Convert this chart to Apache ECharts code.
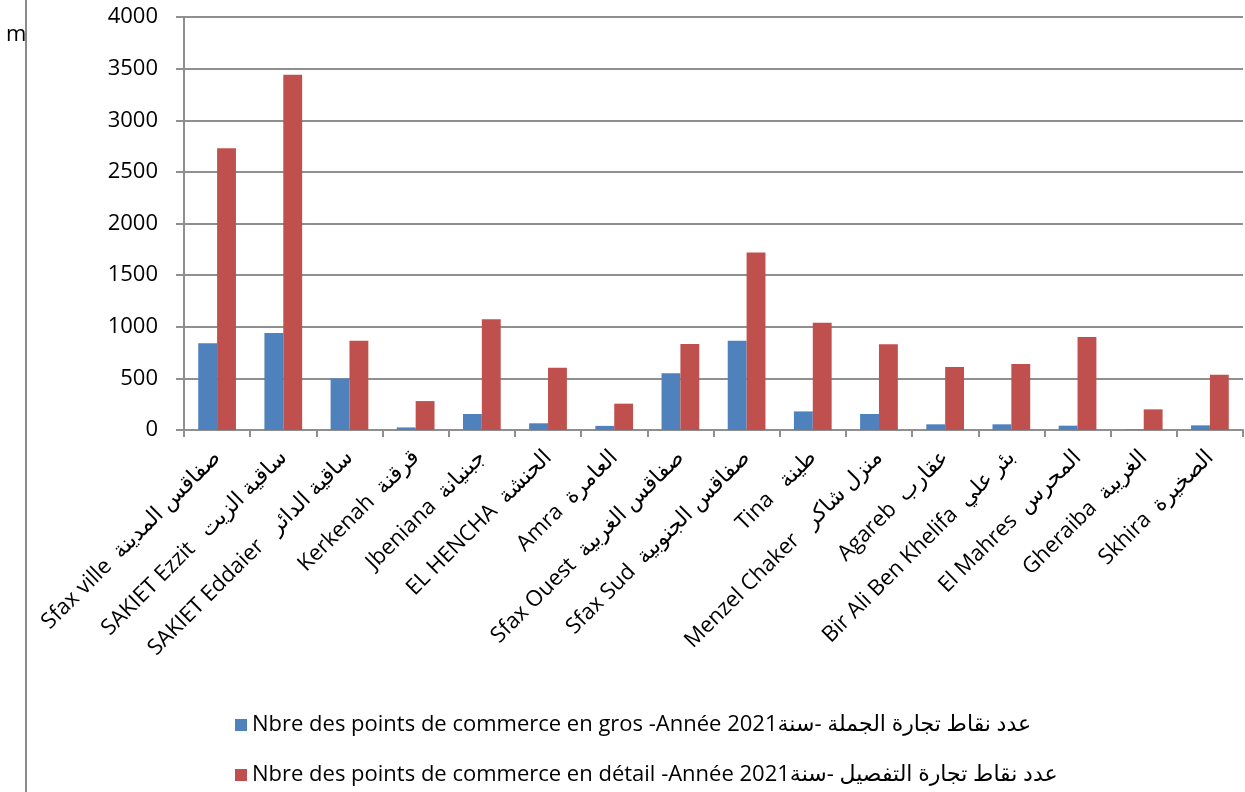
<!DOCTYPE html>
<html>
<head>
<meta charset="utf-8">
<script src="https://cdn.jsdelivr.net/npm/echarts@6/dist/echarts.min.js"></script>
<style>
  html, body { margin: 0; padding: 0; background: #fff; }
  #chart { width: 1245px; height: 792px; }
</style>
</head>
<body>
<div id="chart"></div>
<script>
// Délégations du gouvernorat de Sfax
const categories = [
  'Sfax ville  صفاقس المدينة',
  'SAKIET Ezzit   ساقية الزيت',
  'SAKIET Eddaier   ساقية الدائر',
  'Kerkenah  قرقنة',
  'Jbeniana  جبنيانة',
  'EL HENCHA  الحنشة',
  'Amra  العامرة',
  'Sfax Ouest  صفاقس الغربية',
  'Sfax Sud  صفاقس الجنوبية',
  'Tina   طينة',
  'Menzel Chaker   منزل شاكر',
  'Agareb  عقارب',
  'Bir Ali Ben Khelifa  بئر علي',
  'El Mahres  المحرس',
  'Gheraiba  الغريبة',
  'Skhira  الصخيرة'
];

// Points de commerce en gros (2021)
const grosValues = [840, 940, 500, 25, 155, 65, 40, 550, 865, 180, 155, 55, 55, 42, 5, 45];

// Points de commerce en détail (2021)
const detailValues = [2730, 3440, 865, 280, 1072, 603, 255, 833, 1720, 1039, 830, 610, 639, 900, 200, 536];

const seriesNames = [
  'Nbre des points de commerce en gros -Année عدد نقاط تجارة الجملة -سنة2021',
  'Nbre des points de commerce en détail -Année عدد نقاط تجارة التفصيل -سنة2021'
];

const yTicks = { min: 0, max: 4000, interval: 500 };

const FONT = '"Open Sans", "DejaVu Sans", sans-serif';
const GRID_GREY = '#8f8f8f';

const chart = echarts.init(document.getElementById('chart'), null, { renderer: 'canvas' });

chart.setOption({
  animation: false,
  backgroundColor: '#ffffff',
  textStyle: { fontFamily: FONT },
  color: ['#4F81BD', '#C0504D'],
  grid: { left: 184, right: 2, top: 17, bottom: 362, containLabel: false },
  legend: {
    orient: 'vertical',
    left: 230,
    top: 709,
    itemWidth: 12,
    itemHeight: 12,
    itemGap: 28,
    icon: 'rect',
    textStyle: { fontFamily: FONT, fontSize: 22, color: '#000', lineHeight: 22 },
    data: seriesNames
  },
  xAxis: {
    type: 'category',
    data: categories,
    axisLine: { show: true, lineStyle: { color: GRID_GREY, width: 2 } },
    axisTick: { show: true, length: 7, alignWithLabel: false, lineStyle: { color: GRID_GREY, width: 2 } },
    axisLabel: {
      interval: 0,
      rotate: 45,
      margin: 24,
      fontFamily: FONT,
      fontSize: 22,
      color: '#000'
    }
  },
  yAxis: {
    type: 'value',
    min: yTicks.min,
    max: yTicks.max,
    interval: yTicks.interval,
    axisLine: { show: true, lineStyle: { color: GRID_GREY, width: 2 } },
    axisTick: { show: true, length: 8, lineStyle: { color: GRID_GREY, width: 2 } },
    axisLabel: {
      margin: 26,
      fontFamily: FONT,
      fontSize: 22,
      color: '#000',
      formatter: (v) => String(v)
    },
    splitLine: { show: true, lineStyle: { color: GRID_GREY, width: 2 } }
  },
  series: [
    {
      name: seriesNames[0],
      type: 'bar',
      data: grosValues,
      barGap: '0%',
      barCategoryGap: '43%',
      itemStyle: { color: '#4F81BD' }
    },
    {
      name: seriesNames[1],
      type: 'bar',
      data: detailValues,
      barGap: '0%',
      barCategoryGap: '43%',
      itemStyle: { color: '#C0504D' }
    }
  ],
  graphic: [
    {
      type: 'line',
      shape: { x1: 26, y1: 0, x2: 26, y2: 792 },
      style: { stroke: '#8a8a8a', lineWidth: 2 }
    },
    {
      type: 'text',
      left: 6,
      top: 24,
      style: { text: 'm', fontFamily: FONT, fontSize: 22, fill: '#000' }
    }
  ]
});
</script>
</body>
</html>
